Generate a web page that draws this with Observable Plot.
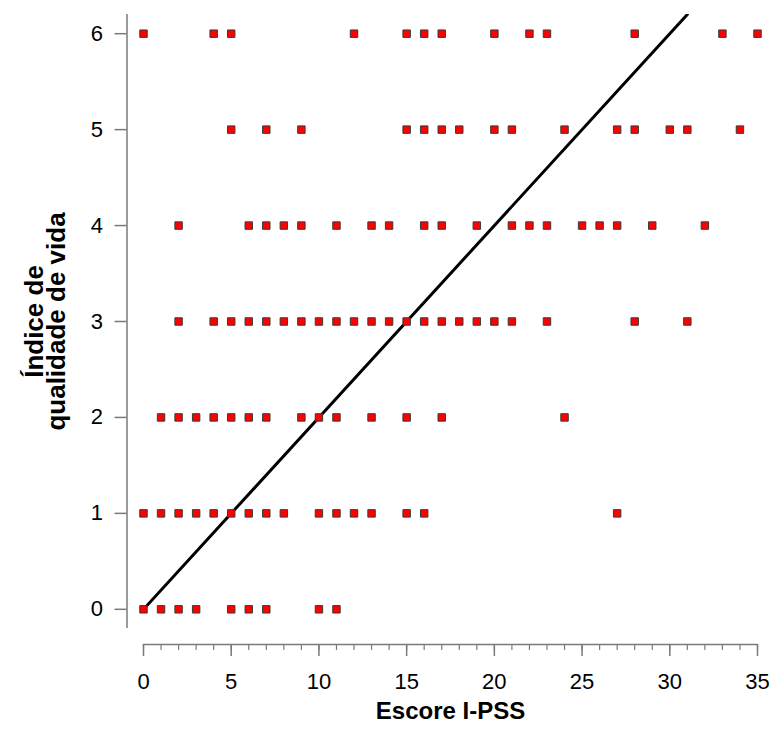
<!DOCTYPE html>
<html>
<head>
<meta charset="utf-8">
<script src="https://cdn.jsdelivr.net/npm/d3@7"></script>
<script src="https://cdn.jsdelivr.net/npm/@observablehq/plot@0.6"></script>
<style>
  html, body { margin: 0; padding: 0; background: #fff; }
  svg { display: block; }
</style>
</head>
<body>
<div id="chart"></div>
<script>
// Escore I-PSS values observed at each quality-of-life index level
const qolLevels = [0, 1, 2, 3, 4, 5, 6];
const pssAtQol0 = [0, 1, 2, 3, 5, 6, 7, 10, 11];
const pssAtQol1 = [0, 1, 2, 3, 4, 5, 6, 7, 8, 10, 11, 12, 13, 15, 16, 27];
const pssAtQol2 = [1, 2, 3, 4, 5, 6, 7, 9, 10, 11, 13, 15, 17, 24];
const pssAtQol3 = [2, 4, 5, 6, 7, 8, 9, 10, 11, 12, 13, 14, 15, 16, 17, 18, 19, 20, 21, 23, 28, 31];
const pssAtQol4 = [2, 6, 7, 8, 9, 11, 13, 14, 16, 17, 19, 21, 22, 23, 25, 26, 27, 29, 32];
const pssAtQol5 = [5, 7, 9, 15, 16, 17, 18, 20, 21, 24, 27, 28, 30, 31, 34];
const pssAtQol6 = [0, 4, 5, 12, 15, 16, 17, 20, 22, 23, 28, 33, 35];

// Fitted line endpoints
const fitX = [0, 31];
const fitY = [0, 6.2];

// Tick labels
const xTicks = [0, 5, 10, 15, 20, 25, 30, 35];
const xMinorTicks = d3.range(0, 36);
const yTicks = [0, 1, 2, 3, 4, 5, 6];

const rows = [pssAtQol0, pssAtQol1, pssAtQol2, pssAtQol3, pssAtQol4, pssAtQol5, pssAtQol6];
const points = rows.flatMap((xs, i) => xs.map(x => ({x, y: qolLevels[i]})));
const fit = fitX.map((x, i) => ({x, y: fitY[i]}));

const axisColor = "#7a7a7a";

const chart = Plot.plot({
  width: 775,
  height: 739,
  marginLeft: 143,
  marginRight: 18,
  marginTop: 14,
  marginBottom: 111,
  style: {fontFamily: "Arial, 'Liberation Sans', sans-serif", background: "#fff", color: "#000"},
  x: {domain: [0, 35], axis: null},
  y: {domain: [-0.2, 6.2], axis: null},
  marks: [
    // y axis line
    Plot.ruleX([0], {y1: -0.2, y2: 6.2, dx: -16.5, stroke: axisColor, strokeWidth: 1.5}),
    Plot.axisY(yTicks, {
      anchor: "left", tickSize: 12, tickPadding: 12, dx: -16.5, tickFormat: "d",
      stroke: axisColor, strokeWidth: 1.5, fontSize: 22, fill: "#000", label: null
    }),
    // x axis line (offset)
    Plot.ruleY([-0.2], {x1: 0, x2: 35, dy: 16, stroke: axisColor, strokeWidth: 1.5}),
    Plot.axisX(xMinorTicks, {
      anchor: "bottom", tickSize: 6, dy: 16, text: null,
      stroke: axisColor, strokeWidth: 1.2, label: null
    }),
    Plot.axisX(xTicks, {
      anchor: "bottom", tickSize: 12, tickPadding: 17, dy: 16, tickFormat: "d",
      stroke: axisColor, strokeWidth: 1.5, fontSize: 22, fill: "#000", label: null
    }),
    // fitted line
    Plot.line(fit, {x: "x", y: "y", stroke: "#000", strokeWidth: 3, clip: true}),
    // data points
    Plot.dot(points, {x: "x", y: "y", symbol: "square", r: 4.2, fill: "#ff0000", stroke: "#3a3a3a", strokeWidth: 1}),
    // axis titles
    Plot.text(["Escore I-PSS"], {
      frameAnchor: "bottom", dy: 90, fontSize: 24, fontWeight: "bold", fill: "#000"
    }),
    Plot.text(["Índice de\nqualidade de vida"], {
      frameAnchor: "left", textAnchor: "middle", dx: -97, rotate: -90, fontSize: 26, fontWeight: "bold",
      fill: "#000", lineHeight: 0.85
    })
  ]
});

document.getElementById("chart").appendChild(chart);
</script>
</body>
</html>
